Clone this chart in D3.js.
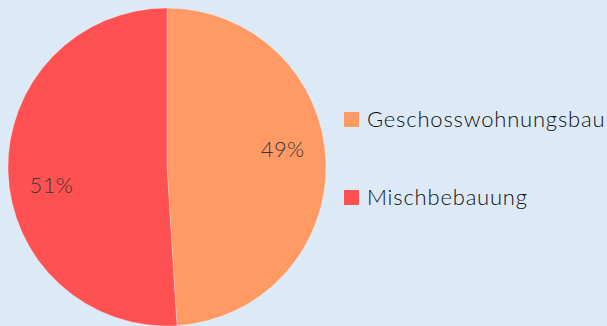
<!DOCTYPE html>
<html>
<head>
<meta charset="utf-8">
<script src="https://cdn.jsdelivr.net/npm/d3@7"></script>
<style>
  html, body { margin: 0; padding: 0; background: #dce9f6; }
  svg { display: block; }
</style>
</head>
<body>
<svg id="chart"></svg>
<script>
// data
const categories = ['Geschosswohnungsbau', 'Mischbebauung'];
const shares = [49, 51];
const colors = ['#ff9a65', '#ff5151'];

const width = 607;
const height = 326;
const cx = 167, cy = 167;
const radius = 159;
const labelRadius = 117;
const labelRotation = -7 * Math.PI / 180; // labels sit a bit before the slice middle

const data = categories.map((c, i) => ({ name: c, value: shares[i], color: colors[i] }));

const svg = d3.select('#chart')
  .attr('width', width)
  .attr('height', height);

const pie = d3.pie()
  .sort(null)
  .value(d => d.value);

const arc = d3.arc()
  .innerRadius(0)
  .outerRadius(radius);

const labelArc = d3.arc()
  .innerRadius(labelRadius)
  .outerRadius(labelRadius);

const g = svg.append('g')
  .attr('transform', `translate(${cx},${cy})`);

const arcs = pie(data);

g.selectAll('path.slice')
  .data(arcs)
  .enter().append('path')
  .attr('class', 'slice')
  .attr('d', arc)
  .attr('fill', d => d.data.color)
  .attr('stroke', 'rgba(255,255,255,0.5)')
  .attr('stroke-width', 0.6);

g.selectAll('text.pct')
  .data(arcs)
  .enter().append('text')
  .attr('class', 'pct')
  .attr('transform', d => {
    const c = labelArc.centroid({
      startAngle: d.startAngle + labelRotation,
      endAngle: d.endAngle + labelRotation
    });
    return `translate(${c[0]},${c[1]})`;
  })
  .attr('text-anchor', 'middle')
  .attr('dy', '0.35em')
  .style('font-family', 'Lato, sans-serif')
  .style('font-weight', 300)
  .style('font-size', '22px')
  .style('letter-spacing', '0.3px')
  .style('fill', '#383838')
  .text(d => d.data.value + '%');

// legend
const legendX = 344;
const legendY = d3.scalePoint()
  .domain(categories)
  .range([119, 197]);

const legend = svg.append('g').attr('class', 'legend');

const item = legend.selectAll('g.item')
  .data(data)
  .enter().append('g')
  .attr('class', 'item')
  .attr('transform', d => `translate(${legendX},${legendY(d.name)})`);

item.append('rect')
  .attr('x', 0)
  .attr('y', -7)
  .attr('width', 15)
  .attr('height', 15)
  .attr('fill', d => d.color);

item.append('text')
  .attr('x', 23)
  .attr('dy', '0.35em')
  .style('font-family', 'Lato, sans-serif')
  .style('font-weight', 300)
  .style('font-size', '22px')
  .style('letter-spacing', '0.8px')
  .style('fill', '#111')
  .text(d => d.name);
</script>
</body>
</html>
